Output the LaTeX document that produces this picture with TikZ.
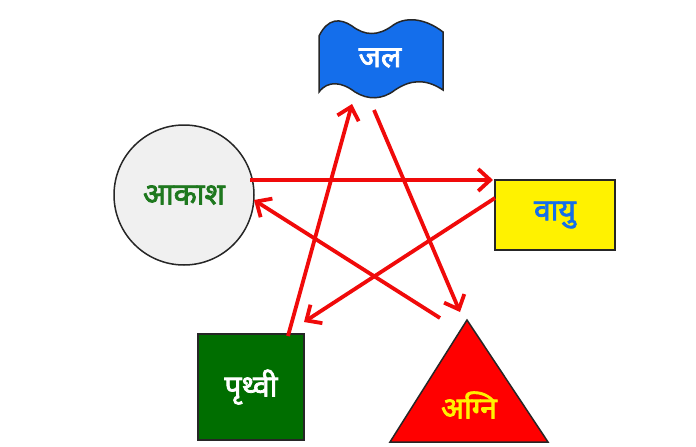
\documentclass[tikz,border=0pt]{standalone}
\usepackage{fontspec}
\newfontfamily\deva[Script=Devanagari,FakeBold=2.5]{Noto Sans}
\usetikzlibrary{arrows.meta}
\definecolor{jblue}{RGB}{20,110,235}
\definecolor{agreen}{RGB}{30,120,30}
\definecolor{pgreen}{RGB}{0,110,0}
\tikzset{
  arr/.style={draw={rgb,255:red,240;green,10;blue,10},line width=3.8pt,-{Straight Barb[length=12pt,width=22pt,line width=3.8pt]}},
  lbl/.style={font=\deva\fontsize{30}{32}\selectfont}
}
\begin{document}
\begin{tikzpicture}[x=1pt,y=-1pt]
\useasboundingbox (0,0) rectangle (696,447);
% jal
\filldraw[fill=jblue,draw=black!85,line width=1.5pt]
 (319,36) .. controls (328,18) and (340,18) .. (352,26)
 .. controls (365,36) and (378,36) .. (392,26)
 .. controls (405,16) and (425,18) .. (443,32)
 -- (443,90)
 .. controls (425,78) and (410,80) .. (395,90)
 .. controls (382,100) and (368,100) .. (355,92)
 .. controls (342,82) and (328,80) .. (319,92) -- cycle;
\node[lbl,text=white] (jal) at (380,58) {जल};
% akash
\node[circle,draw=black!85,fill=black!6,line width=1.5pt,minimum size=140pt,inner sep=0,lbl,text=agreen] (akash) at (184,195) {आकाश};
% vayu
\node[rectangle,draw=black!85,fill=yellow,line width=1.5pt,minimum width=120pt,minimum height=70pt,lbl,text=jblue] (vayu) at (555,215) {वायु};
% prithvi
\node[rectangle,draw=black!85,fill=pgreen,line width=1.5pt,minimum width=106pt,minimum height=106pt,lbl,text=white] (prithvi) at (251,387) {पृथ्वी};
% agni
\filldraw[fill=red,draw=black!85,line width=1.5pt] (467,320) -- (548,442) -- (390,442) -- cycle;
\node[lbl,text=yellow] (agni) at (469,405) {अग्नि};
% arrow ends
\coordinate (a1) at (250,180); \coordinate (b1) at (493,180);
\coordinate (a2) at (495,198); \coordinate (b2) at (304,322);
\coordinate (a3) at (288,336); \coordinate (b3) at (352,104);
\coordinate (a4) at (374,110); \coordinate (b4) at (460,312);
\coordinate (a5) at (440,318); \coordinate (b5) at (254,200);
\draw[arr] (a1) -- (b1);
\draw[arr] (a2) -- (b2);
\draw[arr] (a3) -- (b3);
\draw[arr] (a4) -- (b4);
\draw[arr] (a5) -- (b5);
\end{tikzpicture}
\end{document}
